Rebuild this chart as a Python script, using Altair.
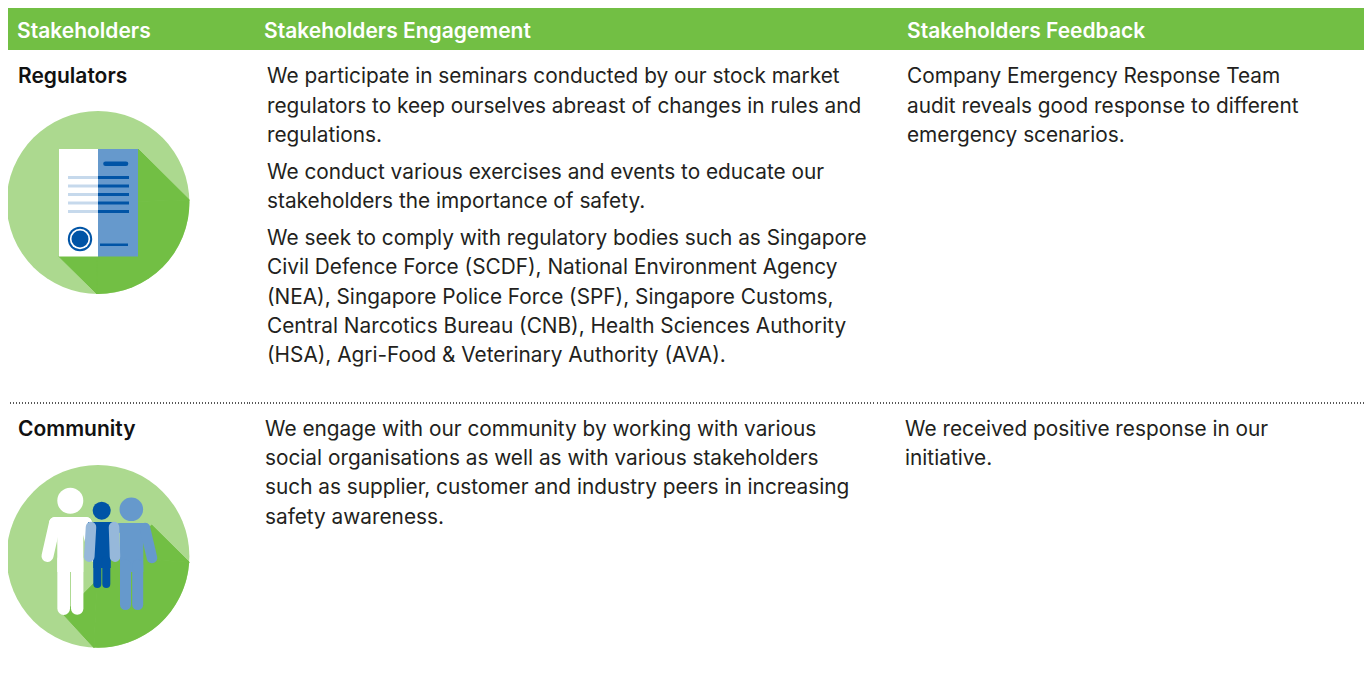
import math
import altair as alt
import pandas as pd

FONT = "Inter"
GREEN, LIGHT_GREEN = "#72bf44", "#acd98f"
BLUE, DARK, PALE, ARM = "#6699cc", "#0054a6", "#c6d9ec", "#96b8da"
INK = "#231f20"

header_x = [17, 264, 907]
header_labels = ["Stakeholders", "Stakeholders Engagement", "Stakeholders Feedback"]
names = [(18, 83, "Regulators"), (18, 435.5, "Community")]
body = [
    (267, 83, "We participate in seminars conducted by our stock market"),
    (267, 113, "regulators to keep ourselves abreast of changes in rules and"),
    (267, 142, "regulations."),
    (267, 179, "We conduct various exercises and events to educate our"),
    (267, 208, "stakeholders the importance of safety."),
    (267, 245, "We seek to comply with regulatory bodies such as Singapore"),
    (267, 274, "Civil Defence Force (SCDF), National Environment Agency"),
    (267, 304, "(NEA), Singapore Police Force (SPF), Singapore Customs,"),
    (267, 333, "Central Narcotics Bureau (CNB), Health Sciences Authority"),
    (267, 362, "(HSA), Agri-Food & Veterinary Authority (AVA)."),
    (907, 83, "Company Emergency Response Team"),
    (907, 113, "audit reveals good response to different"),
    (907, 142, "emergency scenarios."),
    (265, 435.5, "We engage with our community by working with various"),
    (265, 464.5, "social organisations as well as with various stakeholders"),
    (265, 493.5, "such as supplier, customer and industry peers in increasing"),
    (265, 523.5, "safety awareness."),
    (905, 435.5, "We received positive response in our"),
    (905, 464.5, "initiative."),
]
dotted = [(7, 248), (249, 876), (877, 1368)]
DOT_Y = 403

# x, x2, y, y2, colour
band = [(7, 1368, 6, 50, GREEN)]
doc_rects = [
    (59, 98, 149, 256.5, "#ffffff"), (98, 138, 149, 256.5, BLUE),
    (68, 98, 176, 179, PALE), (98, 129, 176, 179, DARK),
    (68, 98, 184.5, 187.5, PALE), (98, 129, 184.5, 187.5, DARK),
    (68, 98, 193, 196, PALE), (98, 129, 193, 196, DARK),
    (68, 98, 201.5, 204.5, PALE), (98, 129, 201.5, 204.5, DARK),
    (68, 98, 210, 213, PALE), (98, 129, 210, 213, DARK),
    (100, 128, 243.5, 246, DARK),
]
# x, y, radius, colour
backs = [(98, 202.5, 91.4, LIGHT_GREEN), (98, 556.3, 91.4, LIGHT_GREEN)]
# x, y, start, end in degrees clockwise from up
sectors = [(98, 202.5, 88.4, 181.0), (98, 556.3, 93.8, 182.5)]
polygons = {
    "doc": [(98, 202.5), (189.4, 200), (138, 149), (59, 256.5), (97, 293.9), (98, 202.5)],
    "people": [(98, 556.3), (189.3, 562.3), (151.7, 525), (63.3, 614.3), (94, 647.7), (98, 556.3)],
}
stamp = [(80, 239, 12.2, DARK), (80, 239, 10.2, "#ffffff"), (80, 239, 8.5, DARK)]
pill = [(105.5, 126, 163.7, 163.7, 4.6, DARK)]
# x, x2, y, y2, width, colour
white_limbs = [
    (55, 86, 523, 523, 12, "#ffffff"), (55, 47.5, 523, 556, 12, "#ffffff"),
    (86, 95, 523, 556, 12, "#ffffff"),
    (63.7, 63.7, 560, 608.6, 12.7, "#ffffff"), (77.2, 77.2, 560, 608.6, 12.4, "#ffffff"),
]
white_rect = [(57.3, 83.3, 517, 572, "#ffffff")]
white_head = [(70.3, 500.7, 13, "#ffffff")]
adult_limbs = [
    (120, 145, 528, 528, 10, BLUE), (145, 152, 528, 558, 10.5, BLUE),
    (125.5, 125.5, 565, 604.5, 11, BLUE), (137.7, 137.7, 565, 604.5, 11, BLUE),
]
adult_rect = [(120, 143.3, 523, 572, BLUE)]
adult_head = [(131.3, 509.3, 11.8, BLUE)]
kid_limbs = [(97.3, 97.3, 560, 584, 8, DARK), (106.3, 106.3, 560, 584, 8, DARK)]
kid_rect = [(93.3, 110.7, 522, 568, DARK), (88, 116, 522, 552, DARK)]
kid_head = [(101.7, 510.7, 9, DARK)]
arms = [(91, 89.3, 527, 556.7, 10.5, ARM), (114, 115, 527, 556.7, 10.5, ARM)]

W, H = 1356, 660
X = alt.Scale(domain=[8, 8 + W], range=[0, W], nice=False, zero=False)
Y = alt.Scale(domain=[8, 8 + H], range=[0, H], nice=False, zero=False)


def px(name):
    return alt.X(f"{name}:Q", scale=X, axis=None)


def py(name):
    return alt.Y(f"{name}:Q", scale=Y, axis=None)


def rects(rows):
    d = pd.DataFrame(rows, columns=["x", "x2", "y", "y2", "c"])
    return alt.Chart(d).mark_rect().encode(
        x=px("x"), x2="x2:Q", y=py("y"), y2="y2:Q", color=alt.Color("c:N", scale=None))


def dots(rows):
    d = pd.DataFrame(rows, columns=["x", "y", "r", "c"])
    d["s"] = [4 * r * r for r in d["r"]]
    return alt.Chart(d).mark_circle(opacity=1).encode(
        x=px("x"), y=py("y"), size=alt.Size("s:Q", scale=None),
        color=alt.Color("c:N", scale=None))


def limbs(rows):
    d = pd.DataFrame(rows, columns=["x", "x2", "y", "y2", "w", "c"])
    return alt.Chart(d).mark_rule(strokeCap="round").encode(
        x=px("x"), x2="x2:Q", y=py("y"), y2="y2:Q",
        strokeWidth=alt.StrokeWidth("w:Q", scale=None),
        color=alt.Color("c:N", scale=None))


def polygon(points):
    d = pd.DataFrame(points, columns=["x", "y"])
    d["o"] = range(len(d))
    return alt.Chart(d).mark_line(fill=GREEN, stroke=GREEN, strokeWidth=1).encode(
        x=px("x"), y=py("y"), order="o:Q")


def sector_layer(rows):
    d = pd.DataFrame(rows, columns=["x", "y", "a", "b"])
    d["a"] = d["a"] * math.pi / 180
    d["b"] = d["b"] * math.pi / 180
    return alt.Chart(d).mark_arc(radius=91.4, color=GREEN).encode(
        x=px("x"), y=py("y"),
        theta=alt.Theta("a:Q", scale=None), theta2="b:Q")


def texts(rows, weight, size, colour):
    d = pd.DataFrame(rows, columns=["x", "y", "t"])
    return alt.Chart(d).mark_text(
        align="left", baseline="alphabetic", font=FONT, fontWeight=weight,
        fontSize=size, color=colour,
    ).encode(x=px("x"), y=py("y"), text="t:N")


dot_df = pd.DataFrame([(a, b, DOT_Y) for a, b in dotted], columns=["x", "x2", "y"])
dots_rule = alt.Chart(dot_df).mark_rule(
    strokeDash=[1, 2], strokeWidth=1.5, color="#222222"
).encode(x=px("x"), x2="x2:Q", y=py("y"))

chart = alt.layer(
    rects(band),
    texts([(x, 38, t) for x, t in zip(header_x, header_labels)], 600, 21, "#ffffff"),
    texts(names, 600, 21, "#111111"),
    texts(body, 400, 20.8, INK),
    dots_rule,
    dots(backs),
    sector_layer(sectors),
    polygon(polygons["doc"]),
    polygon(polygons["people"]),
    rects(doc_rects),
    limbs(pill),
    dots(stamp),
    rects(white_rect), limbs(white_limbs), dots(white_head),
    rects(adult_rect), limbs(adult_limbs), dots(adult_head),
    rects(kid_rect), limbs(kid_limbs), dots(kid_head),
    limbs(arms),
).properties(width=W, height=H, padding=0, autosize=alt.AutoSizeParams(type="none")
).configure_view(stroke=None)

chart.save("out.html", embed_options={"renderer": "svg", "actions": False})
